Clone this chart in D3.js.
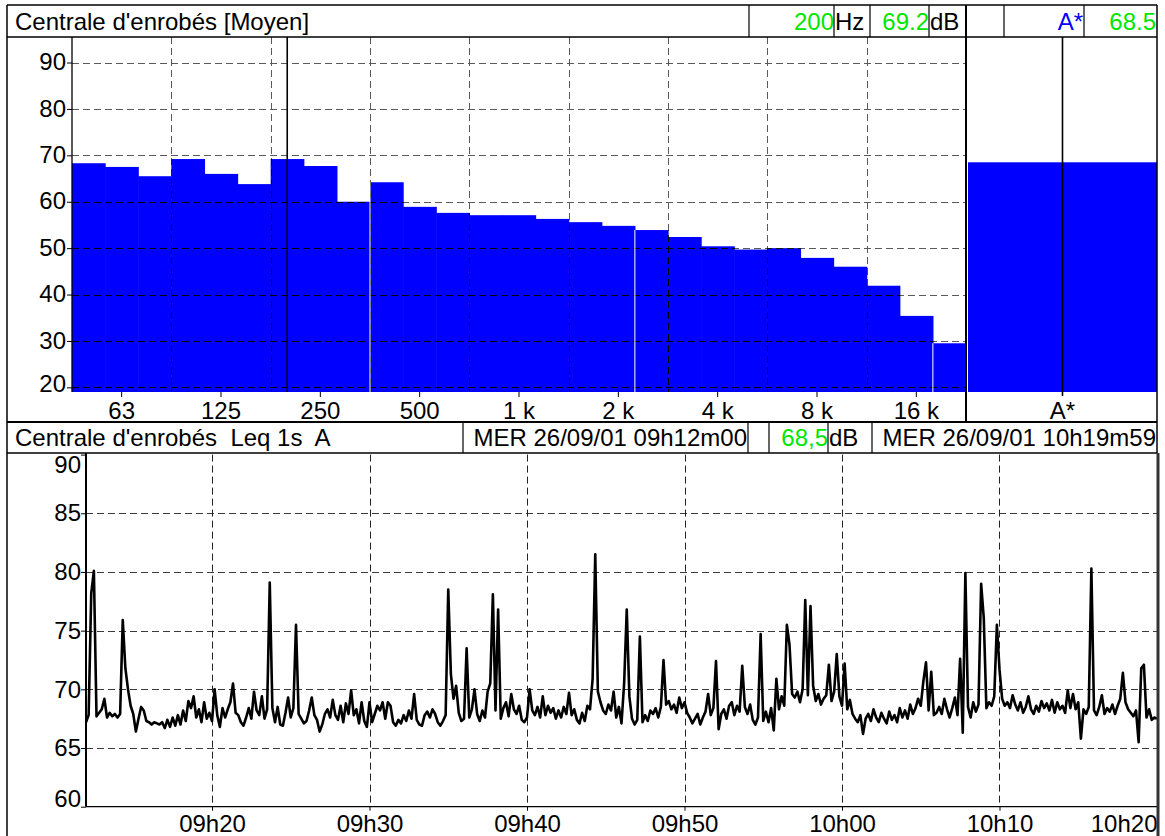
<!DOCTYPE html>
<html>
<head>
<meta charset="utf-8">
<script src="https://cdn.jsdelivr.net/npm/d3@7"></script>
<style>
  body { margin: 0; background: #fff; }
  svg { font-family: "Liberation Sans", Arial, sans-serif; }
  .grid line { stroke-dasharray: 7,4; stroke-width: 1; }
</style>
</head>
<body>
<svg width="1165" height="836"></svg>
<script>
// third-octave spectrum (Leq moyen)
var bands = ["50","63","80","100","125","160","200","250","315","400","500","630","800",
             "1 k","1.25 k","1.6 k","2 k","2.5 k","3.15 k","4 k","5 k","6.3 k","8 k","10 k","12.5 k","16 k","20 k"];
var bandLevels = [68.3, 67.5, 65.5, 69.2, 66.0, 63.8, 69.2, 67.7, 60.0, 64.2, 58.9, 57.6, 57.1,
                  57.1, 56.3, 55.6, 54.8, 53.9, 52.4, 50.4, 49.7, 50.0, 47.9, 46.0, 41.9, 35.4, 29.5];
var octaveLabels = ["63","125","250","500","1 k","2 k","4 k","8 k","16 k"];
var levelTicks = [20, 30, 40, 50, 60, 70, 80, 90];
var cursorBand = "200";
var seamBands = ["315", "2 k", "16 k"];
var totalLabel = "A*";
var totalLevel = 68.5;

// Leq 1s A, one value read every 10 s from 09h12m00
var leqTicks = [60, 65, 70, 75, 80, 85, 90];
var leqStep = 10;
var leq = [
  67.2, 67.8, 78.2, 80.1, 67.7, 68.0,  68.3, 69.2, 67.6, 68.0, 67.7, 67.9,
  67.6, 67.9, 75.9, 71.8, 70.0, 68.6,  67.9, 66.4, 67.5, 68.5, 68.2, 67.3,
  67.2, 67.0, 67.2, 67.1, 67.0, 67.2,  66.7, 67.4, 66.8, 67.6, 66.9, 67.8,
  67.0, 68.2, 67.3, 69.0, 68.4, 69.4,  67.6, 68.3, 67.2, 68.9, 67.5, 68.0,
  67.3, 70.0, 67.8, 66.8, 68.4, 67.6,  68.3, 68.9, 70.5, 68.0, 67.8, 67.2,
  66.9, 67.6, 68.4, 67.5, 69.8, 68.2,  67.8, 69.4, 67.5, 68.3, 79.1, 68.4,
  67.2, 68.5, 67.0, 66.9, 68.0, 69.3,  67.6, 68.4, 75.5, 67.9, 67.5, 67.1,
  67.3, 68.2, 69.3, 67.8, 67.4, 66.4,  67.0, 67.9, 68.3, 67.6, 69.1, 67.8,
  67.4, 68.6, 67.2, 68.8, 67.9, 69.9,  67.8, 68.3, 67.1, 68.9, 67.3, 66.8,
  68.9, 67.2, 67.9, 68.6, 68.2, 68.9,  67.5, 68.9, 68.6, 67.2, 66.9, 67.4,
  67.1, 67.8, 67.3, 68.2, 67.5, 69.6,  67.4, 67.0, 66.9, 67.8, 68.1, 67.6,
  68.3, 67.9, 67.2, 66.9, 67.3, 67.8,  78.5, 71.3, 69.2, 70.3, 68.0, 67.3,
  67.5, 73.5, 67.6, 68.3, 70.0, 67.9,  67.3, 68.2, 67.6, 69.8, 70.5, 78.1,
  68.2, 76.8, 67.5, 68.4, 68.9, 67.7,  69.6, 68.3, 67.9, 68.6, 67.4, 67.2,
  67.6, 70.0, 68.2, 67.8, 68.5, 67.6,  69.4, 67.8, 68.6, 68.0, 68.4, 67.5,
  68.2, 67.6, 68.5, 67.9, 69.7, 67.8,  68.3, 67.4, 67.1, 68.0, 67.3, 68.6,
  68.3, 70.9, 81.5, 69.8, 68.9, 68.2,  67.9, 68.7, 68.2, 69.8, 67.6, 68.5,
  67.1, 70.5, 76.8, 69.4, 67.5, 67.0,  67.4, 74.5, 67.2, 67.8, 67.3, 68.2,
  67.9, 68.4, 67.6, 68.5, 72.5, 68.7,  69.0, 68.3, 68.7, 68.0, 69.3, 68.4,
  68.9, 68.0, 67.6, 67.1, 67.5, 67.9,  67.0, 67.6, 68.1, 69.6, 67.8, 68.4,
  72.4, 66.6, 67.9, 68.3, 67.5, 68.6,  68.9, 67.8, 68.6, 68.1, 72.0, 68.5,
  67.9, 68.7, 67.4, 67.0, 67.6, 74.7,  67.3, 68.1, 67.2, 68.4, 66.5, 70.9,
  68.3, 69.4, 68.6, 75.5, 73.8, 69.6,  69.3, 69.8, 68.9, 70.0, 77.6, 69.5,
  77.1, 70.3, 69.0, 69.6, 68.7, 69.2,  69.5, 72.1, 69.0, 69.8, 73.0, 69.4,
  68.6, 72.2, 68.3, 69.1, 67.9, 67.5,  67.2, 67.8, 66.2, 67.5, 67.9, 67.3,
  68.3, 67.6, 67.2, 68.0, 67.5, 67.1,  68.1, 67.4, 67.8, 67.2, 68.4, 67.6,
  68.2, 67.5, 68.7, 67.9, 68.4, 69.2,  68.6, 70.7, 72.3, 68.2, 71.5, 67.8,
  68.0, 68.5, 67.9, 69.2, 68.3, 67.6,  68.4, 69.3, 67.8, 72.6, 66.3, 79.9,
  68.5, 67.6, 68.9, 68.1, 68.7, 79.0,  76.1, 68.4, 68.9, 68.6, 69.4, 75.5,
  71.7, 69.2, 68.6, 68.9, 68.4, 69.5,  68.7, 68.2, 68.9, 68.0, 68.5, 69.4,
  68.3, 67.9, 68.6, 68.1, 69.0, 68.4,  68.8, 68.2, 69.1, 68.0, 68.9, 68.3,
  68.6, 68.0, 69.9, 68.4, 69.6, 68.3,  68.9, 65.8, 68.3, 67.9, 68.5, 80.3,
  68.2, 67.8, 68.5, 69.5, 67.9, 68.4,  68.1, 68.7, 67.9, 68.6, 69.2, 71.4,
  68.9, 68.3, 68.0, 67.7, 68.2, 65.5,  71.8, 72.1, 67.6, 68.3, 67.4, 67.6,
  67.5
];
var leqTotal = 68.5;
var tStart = new Date(2001, 8, 26, 9, 12, 0);
var tEnd = new Date(2001, 8, 26, 10, 20, 0);

var title1 = "Centrale d'enrobés [Moyen]";
var title2 = "Centrale d'enrobés  Leq 1s  A";
var dayName = "MER";

var FONT = "Liberation Sans, Arial, sans-serif";
var GREEN = "#00e600", BLUE = "#0000ff";

var svg = d3.select("svg"),
    W = +svg.attr("width"),
    H = +svg.attr("height");

svg.append("rect").attr("width", W).attr("height", H).attr("fill", "#fff");

var frameL = 7, frameT = 5, frameR = 1157;
var hdr1B = 37, barB = 392, hdr2T = 422, hdr2B = 453;
var specL = 72, specR = 966, totL = 968;
var leqL = 86, leqT = 454.6, leqB = 806.7;

function px(v) { return Math.round(v) + 0.5; }

function label(x, y, txt, color, anchor) {
  return svg.append("text")
    .attr("x", x).attr("y", y)
    .attr("font-size", 24)
    .attr("fill", color || "#000")
    .attr("text-anchor", anchor || "start")
    .style("white-space", "pre")
    .text(txt);
}
function vline(x, y1, y2, w, c) {
  svg.append("line").attr("x1", x).attr("x2", x).attr("y1", y1).attr("y2", y2)
    .attr("stroke", c || "#000").attr("stroke-width", w || 1);
}
function hline(y, x1, x2, w, c) {
  svg.append("line").attr("x1", x1).attr("x2", x2).attr("y1", y).attr("y2", y)
    .attr("stroke", c || "#000").attr("stroke-width", w || 1);
}
function styleAxis(g) {
  g.attr("font-size", 24).attr("font-family", FONT);
  g.select(".domain").remove();
  g.selectAll("text").attr("fill", "#000");
}
// dashed grid drawn from scale values, snapped to whole pixels
function gridH(g, values, scale, x1, x2, color) {
  g.append("g").selectAll("line")
    .data(values).enter().append("line")
    .attr("x1", x1).attr("x2", x2)
    .attr("y1", function(d) { return px(scale(d)); })
    .attr("y2", function(d) { return px(scale(d)); })
    .attr("stroke", color);
}
function gridV(g, values, scale, y1, y2, color) {
  g.append("g").selectAll("line")
    .data(values).enter().append("line")
    .attr("y1", y1).attr("y2", y2)
    .attr("x1", function(d) { return px(scale(d)); })
    .attr("x2", function(d) { return px(scale(d)); })
    .attr("stroke", color);
}

// ---------- spectrum ----------
var yTop = d3.scaleLinear().domain([19, 95.5]).range([barB, hdr1B]);
var xBand = d3.scaleBand().domain(bands).range([specL, specR]);
var xTot = d3.scaleBand().domain([totalLabel]).range([totL, frameR]);
var bw = xBand.bandwidth();

function barAttrs(sel) {
  sel.attr("x", function(d) { return xBand(d); })
    .attr("width", bw + 0.6)
    .attr("y", function(d, i) { return yTop(bandLevels[i]); })
    .attr("height", function(d, i) { return barB - yTop(bandLevels[i]); });
}

svg.append("g").selectAll("rect")
  .data(bands)
  .enter()
  .append("rect")
  .call(barAttrs)
  .attr("fill", BLUE);

svg.append("rect")
  .attr("x", xTot(totalLabel))
  .attr("width", xTot.bandwidth())
  .attr("y", yTop(totalLevel))
  .attr("height", barB - yTop(totalLevel))
  .attr("fill", BLUE);

svg.append("defs").append("clipPath").attr("id", "barsClip")
  .selectAll("rect")
  .data(bands)
  .enter()
  .append("rect")
  .call(barAttrs);

// grey on white, black over the bars
var bandEdges = bands.filter(function(d, i) { return i > 0 && i % 3 === 0; });
[["#5a5a5a", false], ["#000", true]].forEach(function(p) {
  var g = svg.append("g").attr("class", "grid");
  if (p[1]) g.attr("clip-path", "url(#barsClip)");
  gridH(g, levelTicks, yTop, specL, specR, p[0]);
  gridV(g, bandEdges, xBand, hdr1B, barB, p[0]);
});

svg.append("g").selectAll("line")
  .data(seamBands)
  .enter()
  .append("line")
  .attr("x1", function(d) { return xBand(d) + bw; })
  .attr("x2", function(d) { return xBand(d) + bw; })
  .attr("y1", function(d) { return yTop(bandLevels[bands.indexOf(d) + 1]); })
  .attr("y2", barB)
  .attr("stroke", "#fff")
  .attr("stroke-width", 1);

var yTopAx = svg.append("g")
  .attr("transform", "translate(" + specL + ",0)")
  .call(d3.axisLeft(yTop).tickValues(levelTicks).tickSize(5).tickPadding(1))
  .call(styleAxis);
yTopAx.selectAll(".tick text")
  .attr("dy", function(d) { return d === 20 ? "0.19em" : "0.3em"; });

svg.append("g")
  .attr("transform", "translate(0," + barB + ")")
  .call(d3.axisBottom(xBand).tickValues(octaveLabels).tickSize(5).tickPadding(5))
  .call(styleAxis);

svg.append("g")
  .attr("transform", "translate(0," + barB + ")")
  .call(d3.axisBottom(xTot).tickSize(0).tickPadding(10))
  .call(styleAxis);

vline(specL, hdr1B, barB, 1.3);
vline(xBand(cursorBand) + bw / 2, hdr1B, barB, 1.6);
vline(xTot(totalLabel) + xTot.bandwidth() / 2, hdr1B, barB + 4, 1.6);

// ---------- Leq time history ----------
var xTime = d3.scaleTime().domain([tStart, tEnd]).range([leqL, frameR]);
var yLeq = d3.scaleLinear().domain([60, 90]).range([leqB, leqT]);
var timeTicks = d3.timeMinute.every(10).range(new Date(2001, 8, 26, 9, 20, 0), new Date(2001, 8, 26, 10, 20, 1));

var lg = svg.append("g").attr("class", "grid");
gridH(lg, leqTicks.slice(1, -1), yLeq, leqL, frameR, "#3a3a3a");
gridV(lg, timeTicks.slice(0, -1), xTime, leqT, leqB, "#222");

var line = d3.line()
  .x(function(d, i) { return xTime(new Date(tStart.getTime() + i * leqStep * 1000)); })
  .y(function(d) { return yLeq(d); });

svg.append("path")
  .datum(leq)
  .attr("fill", "none")
  .attr("stroke", "#000")
  .attr("stroke-width", 2.6)
  .attr("stroke-linejoin", "round")
  .attr("d", line);

var yAx = svg.append("g")
  .attr("transform", "translate(" + leqL + ",0)")
  .call(d3.axisLeft(yLeq).tickValues(leqTicks).tickSize(5).tickPadding(0))
  .call(styleAxis);
yAx.selectAll(".tick text")
  .attr("dy", function(d) { return d === 90 ? "0.74em" : (d === 60 ? "0em" : "0.32em"); });

var xAx = svg.append("g")
  .attr("transform", "translate(0," + leqB + ")")
  .call(d3.axisBottom(xTime).tickValues(timeTicks).tickSize(4).tickPadding(4).tickFormat(d3.timeFormat("%Hh%M")))
  .call(styleAxis);
xAx.selectAll(".tick text")
  .attr("text-anchor", function(d, i) { return i === timeTicks.length - 1 ? "end" : "middle"; });

vline(leqL, hdr2B, leqB, 2);
hline(leqB, leqL, frameR, 1.3);

// ---------- headers and frame ----------
var fmtTime = d3.timeFormat("%d/%m/%y %Hh%Mm%S");

label(15, 30, title1);
label(834, 30, cursorBand, GREEN, "end");
label(835, 30, "Hz");
label(929, 30, d3.format(".1f")(bandLevels[bands.indexOf(cursorBand)]), GREEN, "end");
label(930, 30, "dB");
label(1083, 30, totalLabel, BLUE, "end");
label(1156, 30, d3.format(".1f")(totalLevel), GREEN, "end");

label(15, 446, title2);
label(747, 446, dayName + " " + fmtTime(tStart), "#000", "end");
label(828, 446, d3.format(".1f")(leqTotal).replace(".", ","), GREEN, "end");
label(829, 446, "dB");
label(1156, 446, dayName + " " + fmtTime(new Date(tEnd.getTime() - 1000)), "#000", "end");

hline(frameT, frameL, frameR, 1.5);
hline(hdr1B, frameL, frameR, 1.5);
hline(hdr2T, frameL, frameR, 2);
hline(hdr2B, frameL, frameR, 1.5);
vline(frameL, frameT, H, 1.5);
vline(frameR, frameT, hdr2B, 1.5);
vline(frameR + 1, hdr2B, H, 3, "#333");
vline(specR, frameT, hdr2T, 2);

[749, 834, 870, 929, 1004, 1084].forEach(function(x) { vline(x, frameT, hdr1B, 1.2); });
[463, 748, 769, 828, 872].forEach(function(x) { vline(x, hdr2T, hdr2B, 1.2); });
</script>
</body>
</html>
